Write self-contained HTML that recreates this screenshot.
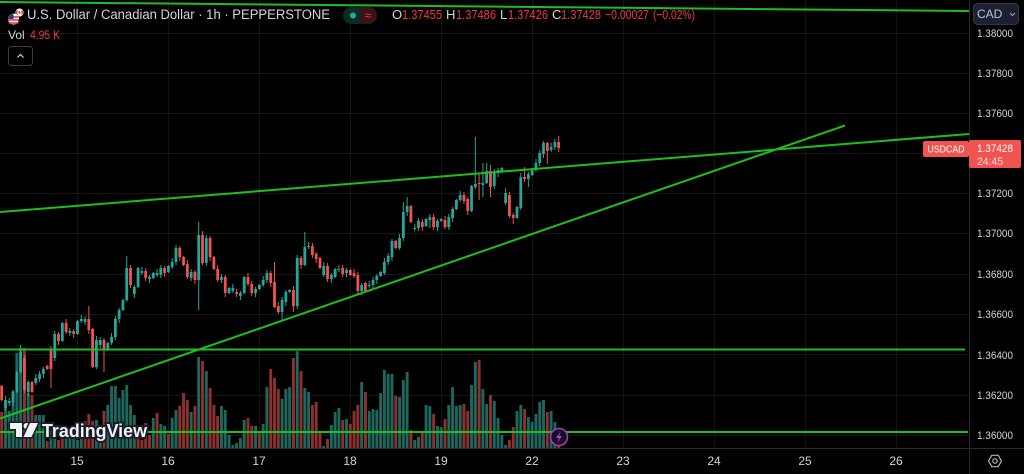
<!DOCTYPE html>
<html><head><meta charset="utf-8">
<style>
html,body{margin:0;padding:0;background:#000;width:1024px;height:474px;overflow:hidden}
svg{display:block;font-family:"Liberation Sans",sans-serif}
</style></head>
<body>
<svg id="c" width="1024" height="474" viewBox="0 0 1024 474" xmlns="http://www.w3.org/2000/svg">
<rect width="1024" height="474" fill="#000"/>
<g stroke="#151515" stroke-width="1">
<line x1="0" y1="33.5" x2="969" y2="33.5"/><line x1="0" y1="73.5" x2="969" y2="73.5"/><line x1="0" y1="113.5" x2="969" y2="113.5"/><line x1="0" y1="153.5" x2="969" y2="153.5"/><line x1="0" y1="193.5" x2="969" y2="193.5"/><line x1="0" y1="233.5" x2="969" y2="233.5"/><line x1="0" y1="274.5" x2="969" y2="274.5"/><line x1="0" y1="314.5" x2="969" y2="314.5"/><line x1="0" y1="354.5" x2="969" y2="354.5"/><line x1="0" y1="395.5" x2="969" y2="395.5"/><line x1="0" y1="435.5" x2="969" y2="435.5"/>
<line x1="77.5" y1="0" x2="77.5" y2="448"/><line x1="168.5" y1="0" x2="168.5" y2="448"/><line x1="259.5" y1="0" x2="259.5" y2="448"/><line x1="350.5" y1="0" x2="350.5" y2="448"/><line x1="441.5" y1="0" x2="441.5" y2="448"/><line x1="532.5" y1="0" x2="532.5" y2="448"/><line x1="623.5" y1="0" x2="623.5" y2="448"/><line x1="714.5" y1="0" x2="714.5" y2="448"/><line x1="805.5" y1="0" x2="805.5" y2="448"/><line x1="896.5" y1="0" x2="896.5" y2="448"/>
</g>
<g id="vol"></g>
<g id="cand"></g>
<!-- trend lines -->
<g stroke="#1cbf1c" stroke-width="2" fill="none">
<line x1="0" y1="2" x2="969" y2="11"/>
<line x1="0" y1="212" x2="969" y2="134"/>
<line x1="0" y1="418.5" x2="845" y2="125.5"/>
<line x1="0" y1="349.5" x2="965" y2="349.5"/>
<line x1="0" y1="432" x2="968" y2="432"/>
</g>
<!-- TradingView logo -->
<g>
<path d="M10 423 H22 V437 H16 V429 H10 Z" fill="#f0f3fa" stroke="#1a1d26" stroke-width="3" paint-order="stroke"/>
<circle cx="26.5" cy="426" r="3" fill="#f0f3fa" stroke="#1a1d26" stroke-width="3" paint-order="stroke"/>
<path d="M30 423 H38 L31.5 437 H23.5 Z" fill="#f0f3fa" stroke="#1a1d26" stroke-width="3" paint-order="stroke"/>
<text x="42" y="437" font-size="18.5" font-weight="bold" fill="#f0f3fa" stroke="#1a1d26" stroke-width="4" paint-order="stroke" textLength="105" lengthAdjust="spacingAndGlyphs">TradingView</text>
</g>
<!-- lightning -->
<g>
<circle cx="559" cy="437" r="8.5" fill="#1a0c22" stroke="#9b3fc0" stroke-width="1.6"/>
<path d="M561 431 L556 438 H559 L557 443 L562 436 H559 Z" fill="#a64bd0"/>
</g>
<!-- axes -->
<line x1="969.5" y1="0" x2="969.5" y2="474" stroke="#2a2a2a"/>
<line x1="0" y1="448.5" x2="1024" y2="448.5" stroke="#2a2a2a"/>
<g font-size="11" fill="#d1d4dc">
<text x="977" y="37" textLength="36" lengthAdjust="spacingAndGlyphs">1.38000</text>
<text x="977" y="77" textLength="36" lengthAdjust="spacingAndGlyphs">1.37800</text>
<text x="977" y="117" textLength="36" lengthAdjust="spacingAndGlyphs">1.37600</text>
<text x="977" y="197" textLength="36" lengthAdjust="spacingAndGlyphs">1.37200</text>
<text x="977" y="237" textLength="36" lengthAdjust="spacingAndGlyphs">1.37000</text>
<text x="977" y="278" textLength="36" lengthAdjust="spacingAndGlyphs">1.36800</text>
<text x="977" y="318" textLength="36" lengthAdjust="spacingAndGlyphs">1.36600</text>
<text x="977" y="359" textLength="36" lengthAdjust="spacingAndGlyphs">1.36400</text>
<text x="977" y="399" textLength="36" lengthAdjust="spacingAndGlyphs">1.36200</text>
<text x="977" y="439" textLength="36" lengthAdjust="spacingAndGlyphs">1.36000</text>
</g>
<g font-size="12" fill="#d1d4dc" text-anchor="middle">
<text x="77" y="465">15</text><text x="168" y="465">16</text><text x="259" y="465">17</text><text x="350" y="465">18</text><text x="441" y="465">19</text><text x="532" y="465">22</text><text x="623" y="465">23</text><text x="714" y="465">24</text><text x="805" y="465">25</text><text x="896" y="465">26</text>
</g>
<!-- settings icon -->
<g stroke="#b2b5be" stroke-width="1.2" fill="none">
<polygon points="1001.5,461 998.2,466.7 991.8,466.7 988.5,461 991.8,455.3 998.2,455.3"/>
<circle cx="995" cy="461" r="2.2"/>
</g>
<!-- price labels -->
<rect x="923" y="141" width="46" height="16" rx="2" fill="#f05350"/>
<text x="946" y="152.5" font-size="10" fill="#fff" text-anchor="middle" textLength="37" lengthAdjust="spacingAndGlyphs">USDCAD</text>
<rect x="969" y="140" width="52" height="28" rx="2" fill="#f05350"/>
<text x="977" y="152" font-size="11" fill="#fff" textLength="36" lengthAdjust="spacingAndGlyphs">1.37428</text>
<text x="977" y="165" font-size="11" fill="#fde0e0" textLength="26" lengthAdjust="spacingAndGlyphs">24:45</text>
<!-- CAD box -->
<rect x="973.5" y="3.5" width="45" height="21" rx="4" fill="#1c2030" stroke="#30354a"/>
<text x="977" y="18" font-size="12" fill="#b8c4dc">CAD</text>
<polyline points="1010,13 1012.5,15.5 1015,13" stroke="#9aa3b5" stroke-width="1.1" fill="none"/>
<!-- header -->
<g>
<circle cx="13.5" cy="19" r="5.5" fill="#ffffff"/>
<path d="M8 17 H19 M8 20 H19 M8.5 23 H18.5" stroke="#d92b2b" stroke-width="1.4"/>
<path d="M13.5 13.5 A5.5 5.5 0 0 0 8 19 H13.5 Z" fill="#2a3b8f"/>
<circle cx="19.5" cy="12.5" r="4" fill="#fff"/>
<path d="M16 12.5 A3.5 3.5 0 0 1 17.5 9.7 V15.3 A3.5 3.5 0 0 1 16 12.5 Z M23 12.5 A3.5 3.5 0 0 0 21.5 9.7 V15.3 A3.5 3.5 0 0 0 23 12.5 Z" fill="#e02020"/>
<circle cx="19.5" cy="12.5" r="1.1" fill="#e02020"/>
</g>
<text x="27" y="19" font-size="13.5" fill="#d1d4dc" textLength="303" lengthAdjust="spacingAndGlyphs">U.S. Dollar / Canadian Dollar · 1h · PEPPERSTONE</text>
<g>
<path d="M351.5 7 H360 V24 H351.5 A8.5 8.5 0 0 1 351.5 7 Z" fill="#0d2b26"/>
<path d="M360 7 H368.5 A8.5 8.5 0 0 1 368.5 24 H360 Z" fill="#3a1317"/>
<circle cx="353" cy="15.5" r="3" fill="#22ab94"/>
<text x="368" y="19.5" font-size="12" fill="#f23645" text-anchor="middle">≈</text>
</g>
<g font-size="13">
<text x="392" y="19" fill="#d1d4dc">O</text>
<text x="402" y="19" fill="#f23645" textLength="40" lengthAdjust="spacingAndGlyphs">1.37455</text>
<text x="446" y="19" fill="#d1d4dc">H</text>
<text x="456" y="19" fill="#f23645" textLength="40" lengthAdjust="spacingAndGlyphs">1.37486</text>
<text x="500" y="19" fill="#d1d4dc">L</text>
<text x="508" y="19" fill="#f23645" textLength="40" lengthAdjust="spacingAndGlyphs">1.37426</text>
<text x="552" y="19" fill="#d1d4dc">C</text>
<text x="561" y="19" fill="#f23645" textLength="40" lengthAdjust="spacingAndGlyphs">1.37428</text>
<text x="605" y="19" fill="#f23645" textLength="44" lengthAdjust="spacingAndGlyphs">−0.00027</text>
<text x="653" y="19" fill="#f23645" textLength="42" lengthAdjust="spacingAndGlyphs">(−0.02%)</text>
</g>
<text x="8" y="39" font-size="12" fill="#d1d4dc">Vol</text>
<text x="30" y="39" font-size="12" fill="#f23645" textLength="30" lengthAdjust="spacingAndGlyphs">4.95 K</text>
<rect x="8.5" y="46.5" width="24" height="19" rx="3" fill="none" stroke="#3a3e4a"/>
<polyline points="17.5,57.5 20.5,54.5 23.5,57.5" fill="none" stroke="#d1d4dc" stroke-width="1.2"/>
</svg>
<script>
(function(){
var NS="http://www.w3.org/2000/svg";
var D="r386,400 t400,408 t401,403 t392,402 t372,392 t352,372 r358,390 t382,392 r382,392 t378,383 t374,379 t369,374 r366,369 r350,369 t334,358 r334,341 t323,341 r323,332 t331,333 r331,334 t321,334 t319,321 t319,322 r319,330 r329,367 t340,367 t340,345 r340,350 t343,350 t337,343 t319,337 t310,319 t300,310 t268,300 r268,285 t287,294 t268,287 t271,273 r271,278 t277,279 t273,278 t273,275 t268,275 r268,273 t266,272 t262,267 t248,262 r248,257 r257,265 r264,277 t272,278 r272,280 t235,280 r235,263 t238,263 r238,257 r257,269 r269,280 t277,280 r277,293 t288,293 t288,291 r292,294 t293,296 t277,293 r277,284 r284,293 t289,293 t285,289 t280,285 t273,280 r273,283 r282,307 r306,312 t300,312 t292,302 t290,292 r290,306 t258,306 r258,265 t247,265 t246,247 r246,255 r254,259 r258,268 t266,275 r266,279 t275,279 t269,277 t269,270 r268,274 t270,273 r270,275 r273,276 r275,291 t285,291 r283,291 t285,286 t280,285 t276,280 t272,276 t262,273 t256,262 t241,257 r241,248 t238,248 t212,238 t206,212 r206,222 t228,229 t221,228 r222,227 t219,226 t217,220 r217,227 t221,227 t219,221 r220,227 t217,227 t209,218 t200,209 t195,200 r195,201 r199,211 t186,211 t184,187 r183,184 t183,185 t171,183 r171,187 t172,186 t170,173 t168,172 t193,203 r195,216 r215,218 t207,218 t177,208 r177,179 t174,179 t169,175 t163,170 t153,163 t143,154 r143,151 t147,150 t142,147 r142,148".split(" ");
var W={5:[345,0],13:[0,388],23:[306,0],27:[0,372],33:[256,0],52:[222,310],72:[262,0],74:[0,320],77:[0,312],80:[232,0],106:[202,0],107:[197,0],111:[219,231],113:[214,228],125:[137,189],126:[173,200],127:[163,197],128:[163,0],129:[165,197],133:[188,0],134:[0,218],135:[0,224],138:[167,0],139:[0,187],143:[141,0],144:[0,164],147:[136,0]};
var VC="rtttttrtrtttrttrrtttttrrrttrttttttttrrrrtrttrttrrrtrtrtrrrtttttttrrtrttrrrtttrtrttrrrtrtttrtrrrtrtttttttrtttrttrttrttrttttrrttrttrttttrrttrtttttrttr";
var VH=[36,40,37,57,95,100,100,55,53,33,33,33,7,18,22,8,20,13,18,13,8,18,27,34,27,28,23,37,43,62,62,50,58,63,43,33,20,8,25,13,30,35,24,22,14,30,38,42,55,48,36,42,91,87,77,60,43,32,42,38,13,3,5,10,28,30,22,22,15,24,61,79,70,59,49,59,61,90,97,77,60,56,43,46,15,2,9,23,36,40,28,29,24,37,43,66,56,37,39,38,55,78,74,74,52,51,68,76,18,8,11,16,43,42,34,22,21,29,43,61,42,43,44,37,63,86,88,59,44,53,47,30,13,3,8,21,37,43,39,31,26,34,46,48,36,37,26,3];
var UP="#26a69a",DN="#ef5350",VUP="#1e665e",VDN="#8e302d";
var cg=document.getElementById("cand"),vg=document.getElementById("vol");
function el(t,a,p){var e=document.createElementNS(NS,t);for(var k in a)e.setAttribute(k,a[k]);p.appendChild(e);return e;}
for(var i=0;i<D.length;i++){
 var x=1.7+i*3.789;
 var s=D[i],ty=s[0],ab=s.slice(1).split(","),a=+ab[0],b=+ab[1];
 var col=ty=="t"?UP:DN;
 var hi=a-(1+(i*7)%4),lo=b+(1+(i*5)%4);
 if(W[i]){if(W[i][0])hi=W[i][0];if(W[i][1])lo=W[i][1];}
 var vh=VH[i]||0;
 el("rect",{x:(x-1.45).toFixed(2),y:(448-vh),width:2.9,height:vh,fill:(VC[i]=="t"?VUP:VDN)},vg);
 el("rect",{x:(x-0.5).toFixed(2),y:hi,width:1,height:lo-hi,fill:col},cg);
 el("rect",{x:(x-1.4).toFixed(2),y:a,width:2.8,height:Math.max(1,b-a),fill:col},cg);
}
})();
</script>
</body></html>
